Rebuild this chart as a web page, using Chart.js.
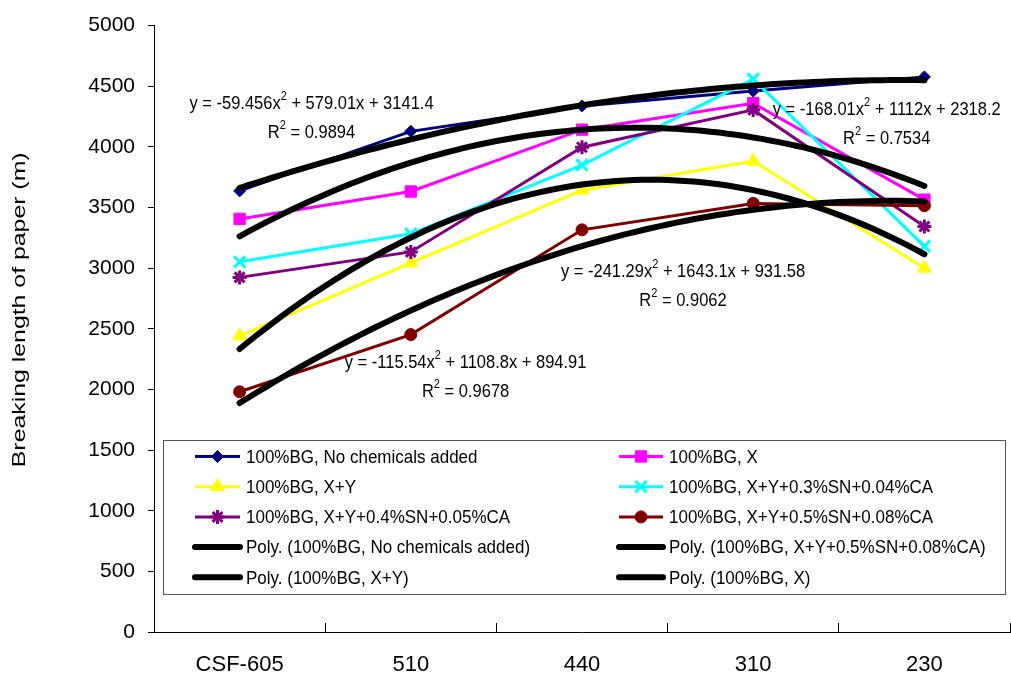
<!DOCTYPE html>
<html>
<head>
<meta charset="utf-8">
<title>Breaking length of paper</title>
<script src="https://cdn.jsdelivr.net/npm/chart.js@4.4.0/dist/chart.umd.min.js"></script>
<style>
  html, body { margin: 0; padding: 0; background: #fff; }
  #wrap { width: 1011px; height: 681px; }
</style>
</head>
<body>
<div id="wrap"><canvas id="breakingChart" width="1011" height="681"></canvas></div>
<script>
const FONT = "'Liberation Sans', Arial, sans-serif";

// pulp freeness levels along the x axis
const categories = ['CSF-605', '510', '440', '310', '230'];

// breaking length (m) per treatment
const noChemicals = [3637, 4128, 4338, 4460, 4577];
const withX = [3406, 3632, 4142, 4360, 3565];
const withXY = [2442, 3044, 3643, 3883, 3000];
const withSN03 = [3052, 3283, 3850, 4559, 3180];
const withSN04 = [2924, 3134, 3997, 4305, 3343];
const withSN05 = [1981, 2452, 3316, 3534, 3515];

// y axis range
const yMin = 0;
const yMax = 5000;
const yStep = 500;

// x tick marks sit between categories, labels on the categories
const xTickValues = [0.5, 1, 1.5, 2, 2.5, 3, 3.5, 4, 4.5, 5, 5.5];

// polynomial trendlines: y = a*x^2 + b*x + c
const trendNames = [
  'Poly. (100%BG, No chemicals added)',
  'Poly. (100%BG, X+Y+0.5%SN+0.08%CA)',
  'Poly. (100%BG, X+Y)',
  'Poly. (100%BG, X)'
];
const trendA = [-59.456, -115.54, -241.29, -168.01];
const trendB = [579.01, 1108.8, 1643.1, 1112];
const trendC = [3141.4, 894.91, 931.58, 2318.2];
const trendR2 = ['0.9894', '0.9678', '0.9062', '0.7534'];

const yTitle = 'Breaking length of paper (m)';

const toPoints = (vals) => vals.map((v, i) => ({ x: i + 1, y: v }));

function trendPoints(k) {
  const pts = [];
  for (let x = 1; x <= 5.0001; x += 0.05) {
    pts.push({ x: x, y: trendA[k] * x * x + trendB[k] * x + trendC[k] });
  }
  return pts;
}

const seriesDefs = [
  { label: '100%BG, No chemicals added', data: noChemicals, color: '#000080', style: 'rectRot', r: 6, bw: 1 },
  { label: '100%BG, X', data: withX, color: '#FF00FF', style: 'rect', r: 8, bw: 1 },
  { label: '100%BG, X+Y', data: withXY, color: '#FFFF00', style: 'triangle', r: 8, bw: 1 },
  { label: '100%BG, X+Y+0.3%SN+0.04%CA', data: withSN03, color: '#00FFFF', style: 'crossRot', r: 8, bw: 3 },
  { label: '100%BG, X+Y+0.4%SN+0.05%CA', data: withSN04, color: '#800080', style: 'star', r: 7, bw: 3 },
  { label: '100%BG, X+Y+0.5%SN+0.08%CA', data: withSN05, color: '#800000', style: 'circle', r: 6, bw: 1 }
];

const datasets = seriesDefs.map((s, i) => ({
  label: s.label,
  data: toPoints(s.data),
  borderColor: s.color,
  backgroundColor: s.color,
  borderWidth: 3,
  pointStyle: s.style,
  pointRadius: s.r,
  pointBorderWidth: s.bw,
  pointBackgroundColor: s.color,
  pointBorderColor: s.color,
  tension: 0,
  order: 10 - i
}));

trendNames.forEach((name, k) => {
  datasets.push({
    label: name,
    data: trendPoints(k),
    borderColor: '#000',
    backgroundColor: '#000',
    borderWidth: 6,
    borderCapStyle: 'round',
    borderJoinStyle: 'round',
    pointRadius: 0,
    tension: 0,
    order: 0
  });
});

// text drawn a little taller than wide, like the rest of the figure
function fillTall(ctx, text, x, y, sy) {
  ctx.save();
  ctx.translate(x, y);
  ctx.scale(1, sy);
  ctx.fillText(text, 0, 0);
  ctx.restore();
}

// "y = ax² + bx + c" and "R² = ..." text beside the trendlines
function drawSupLine(ctx, parts, cx, cy) {
  let total = 0;
  parts.forEach(p => {
    ctx.font = (p.sup ? '11px ' : '16.5px ') + FONT;
    p.w = ctx.measureText(p.t).width;
    total += p.w;
  });
  let x = cx - total / 2;
  parts.forEach(p => {
    ctx.font = (p.sup ? '11px ' : '16.5px ') + FONT;
    fillTall(ctx, p.t, x, p.sup ? cy - 7 : cy, 1.12);
    x += p.w;
  });
}

const equationLabels = {
  id: 'equationLabels',
  afterDatasetsDraw(chart, args, opts) {
    const ctx = chart.ctx;
    const xs = chart.scales.x, ys = chart.scales.y;
    ctx.save();
    ctx.fillStyle = '#000';
    ctx.textBaseline = 'middle';
    ctx.textAlign = 'left';
    opts.anchors.forEach((a, k) => {
      const cx = xs.getPixelForValue(a[0]);
      const cy = ys.getPixelForValue(a[1]);
      const sign = (v) => (v < 0 ? ' - ' : ' + ') + Math.abs(v);
      drawSupLine(ctx, [
        { t: 'y = ' + trendA[k] + 'x' },
        { t: '2', sup: true },
        { t: sign(trendB[k]) + 'x' + sign(trendC[k]) }
      ], cx, cy);
      drawSupLine(ctx, [
        { t: 'R' },
        { t: '2', sup: true },
        { t: ' = ' + trendR2[k] }
      ], cx, cy + opts.lineGap);
    });
    ctx.restore();
  }
};

// rotated axis title, stretched along its length
const axisTitle = {
  id: 'axisTitle',
  afterDraw(chart, args, opts) {
    const ctx = chart.ctx;
    const ys = chart.scales.y;
    ctx.save();
    ctx.translate(opts.x, (ys.top + ys.bottom) / 2 + opts.shift);
    ctx.rotate(-Math.PI / 2);
    ctx.scale(opts.stretch, 1);
    ctx.font = '18px ' + FONT;
    ctx.fillStyle = '#000';
    ctx.textAlign = 'center';
    ctx.textBaseline = 'middle';
    ctx.fillText(yTitle, 0, 0);
    ctx.restore();
  }
};

// two-column legend box drawn inside the plot
const legendBox = {
  id: 'legendBox',
  afterDraw(chart, args, opts) {
    const ctx = chart.ctx;
    const b = opts.box;
    ctx.save();
    ctx.fillStyle = '#fff';
    ctx.fillRect(b.left, b.top, b.right - b.left, b.bottom - b.top);
    ctx.strokeStyle = '#555';
    ctx.lineWidth = 1;
    ctx.strokeRect(b.left + 0.5, b.top + 0.5, b.right - b.left, b.bottom - b.top);

    ctx.font = '17px ' + FONT;
    ctx.textBaseline = 'middle';
    ctx.textAlign = 'left';
    chart.data.datasets.forEach((ds, i) => {
      const col = opts.columns[i % 2];
      const y = opts.firstRow + Math.floor(i / 2) * opts.rowStep;
      ctx.save();
      ctx.strokeStyle = ds.borderColor;
      ctx.lineWidth = ds.borderWidth;
      ctx.lineCap = ds.pointRadius ? 'butt' : 'round';
      ctx.beginPath();
      ctx.moveTo(col.x0, y);
      ctx.lineTo(col.x1, y);
      ctx.stroke();
      if (ds.pointRadius) {
        ctx.fillStyle = ds.pointBackgroundColor;
        ctx.strokeStyle = ds.pointBorderColor;
        ctx.lineWidth = ds.pointBorderWidth;
        Chart.helpers.drawPoint(ctx, {
          pointStyle: ds.pointStyle,
          radius: ds.pointRadius,
          borderWidth: ds.pointBorderWidth,
          rotation: 0
        }, (col.x0 + col.x1) / 2, y);
      }
      ctx.restore();
      ctx.fillStyle = '#000';
      fillTall(ctx, ds.label, col.text, y + 1, 1.12);
    });
    ctx.restore();
  }
};

new Chart(document.getElementById('breakingChart'), {
  type: 'line',
  data: { datasets: datasets },
  plugins: [equationLabels, legendBox, axisTitle],
  options: {
    responsive: false,
    animation: false,
    devicePixelRatio: 1,
    layout: { autoPadding: false, padding: { top: 20, right: 1, bottom: 0, left: 0 } },
    plugins: {
      legend: { display: false },
      tooltip: { enabled: false },
      equationLabels: {
        // [x, y] in data units for the centre of each equation's first line
        anchors: [[1.42, 4355], [2.32, 2221], [3.59, 2973], [4.78, 4306]],
        lineGap: 29
      },
      axisTitle: { x: 20, shift: -19, stretch: 1.38 },
      legendBox: {
        box: { left: 163, top: 440, right: 1005, bottom: 594 },
        firstRow: 456.5,
        rowStep: 30.2,
        columns: [
          { x0: 195, x1: 240, text: 246 },
          { x0: 619, x1: 663, text: 669 }
        ]
      }
    },
    scales: {
      x: {
        type: 'linear',
        min: 0.5,
        max: 5.5,
        afterBuildTicks: (axis) => {
          axis.ticks = xTickValues.map(v => ({ value: v }));
        },
        afterFit: (axis) => {
          axis.height = 49;
          axis.paddingLeft = 0;
          axis.paddingRight = 0;
        },
        border: { display: true, color: '#000', width: 1 },
        grid: {
          drawOnChartArea: false,
          drawTicks: true,
          tickLength: -9,
          color: (c) => (c.tick && Number.isInteger(c.tick.value)) ? 'rgba(0,0,0,0)' : '#000'
        },
        ticks: {
          autoSkip: false,
          maxRotation: 0,
          minRotation: 0,
          padding: 29,
          color: '#000',
          font: { family: FONT, size: 22 },
          callback: (v) => Number.isInteger(v) ? categories[v - 1] : ''
        }
      },
      y: {
        min: yMin,
        max: yMax,
        afterFit: (axis) => { axis.width = 154; },
        border: { display: true, color: '#000', width: 1 },
        grid: {
          drawOnChartArea: false,
          drawTicks: true,
          tickLength: 6,
          color: '#000'
        },
        ticks: {
          stepSize: yStep,
          padding: 13,
          color: '#000',
          font: { family: FONT, size: 21 },
          callback: (v) => String(v)
        }
      }
    }
  }
});
</script>
</body>
</html>
